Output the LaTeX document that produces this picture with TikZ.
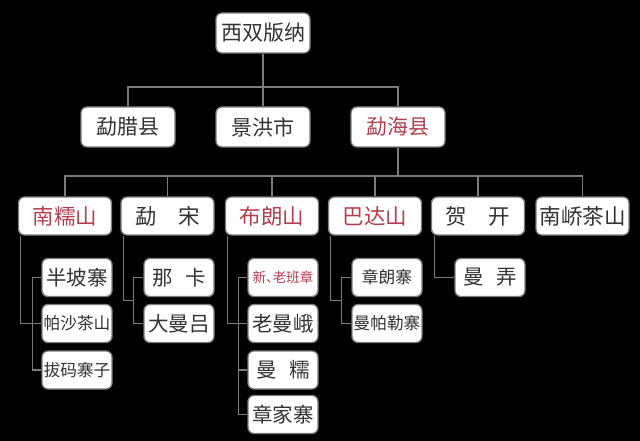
\documentclass[tikz,border=0pt]{standalone}
\usepackage{fontspec}
\newfontfamily\cjk{Noto Sans CJK SC}
\usetikzlibrary{calc}
\definecolor{ink}{HTML}{333333}
\definecolor{crimson}{HTML}{B0404F}
\definecolor{edge}{HTML}{7C7C7C}
\tikzset{
  box/.style={draw=edge, line width=1.3pt, fill=white, rounded corners=6pt, text=ink, inner sep=0pt,
    font=\cjk\fontsize{21}{24}\selectfont, minimum width=94pt, minimum height=40pt},
  mount/.style={box, font=\cjk\fontsize{21.5}{24}\selectfont, minimum width=93pt, minimum height=38pt},
  kid/.style={box, font=\cjk\fontsize{20.5}{24}\selectfont, minimum width=70pt, minimum height=38pt},
  small/.style={font=\cjk\fontsize{16.7}{20}\selectfont},
  hl/.style={text=crimson},
  conn/.style={draw=edge, line width=1.2pt}
}
\begin{document}
\begin{tikzpicture}[x=1pt, y=-1pt]

  \fill[black] (0,0) rectangle (640,441);

  \node[box] (root) at (263,33) {西双版纳};
  \node[box] (mengla) at (128,127) {勐腊县};
  \node[box] (jinghong) at (263,127) {景洪市};
  \node[box, hl] (menghai) at (398,127) {勐海县};

  \node[mount, hl] (nannuo) at (65,216) {南糯山};
  \node[mount] (mengsong) at (167.5,216) {勐　宋};
  \node[mount, hl] (bulang) at (272,216) {布朗山};
  \node[mount, hl] (bada) at (375,216) {巴达山};
  \node[mount] (hekai) at (478,216) {贺　开};
  \node[mount] (nanjiao) at (582.5,216) {南峤茶山};

  \node[kid] (banpo) at (77,277.5) {半坡寨};
  \node[kid, small] (pasha) at (77,323.5) {帕沙茶山};
  \node[kid, small] (bama) at (77,370) {拔码寨子};

  \node[kid] (naka) at (179,277.5) {那\hspace{0.6em}卡};
  \node[kid] (daman) at (179,323.5) {大曼吕};

  \node[kid, hl, font=\cjk\fontsize{13.5}{16}\selectfont] (laoban) at (283,277.5) {新、\kern-0.5em老班章};
  \node[kid] (laoman) at (283,323.5) {老曼峨};
  \node[kid] (mannuo) at (283,370) {曼\hspace{0.6em}糯};
  \node[kid] (zhangjia) at (283,414.5) {章家寨};

  \node[kid, small] (zhanglang) at (387,277.5) {章朗寨};
  \node[kid, small] (manpa) at (387,323.5) {曼帕勒寨};

  \node[kid] (manlong) at (490,277.5) {曼\hspace{0.6em}弄};

  % counties
  \coordinate (bar1) at (263,87);
  \draw[conn] (root) -- (jinghong);
  \draw[conn] (mengla.north) |- (bar1) -| (menghai.north);

  % mountains
  \coordinate (bar2) at (398,176);
  \draw[conn] (menghai.south) -- (bar2);
  \draw[conn] (nannuo.north) |- (bar2) -| (nanjiao.north);
  \foreach \n in {mengsong, bulang, bada, hekai}
    \draw[conn] (\n.north) -- (\n.north |- bar2);

  % villages
  \draw[conn] ([xshift=3pt]nannuo.south west) |- ([xshift=-9pt]pasha.west);
  \draw[conn] (banpo.west) -| ([xshift=-9pt]bama.west) -- (bama.west);
  \draw[conn] (pasha.west) -- ++(-9pt,0);

  \draw[conn] ([xshift=3pt]mengsong.south west) |- ($(naka.west)!0.5!(daman.west)+(-10pt,0)$);
  \draw[conn] (naka.west) -| ([xshift=-10pt]daman.west) -- (daman.west);

  \draw[conn] ([xshift=3pt]bulang.south west) |- ([xshift=-9pt]laoman.west);
  \draw[conn] (laoban.west) -| ([xshift=-9pt]zhangjia.west) -- (zhangjia.west);
  \foreach \n in {laoman, mannuo}
    \draw[conn] (\n.west) -- ++(-9pt,0);

  \draw[conn] ([xshift=3pt]bada.south west) |- ($(zhanglang.west)!0.5!(manpa.west)+(-10pt,0)$);
  \draw[conn] (zhanglang.west) -| ([xshift=-10pt]manpa.west) -- (manpa.west);

  \draw[conn] ([xshift=4pt]hekai.south west) |- (manlong.west);

\end{tikzpicture}
\end{document}
